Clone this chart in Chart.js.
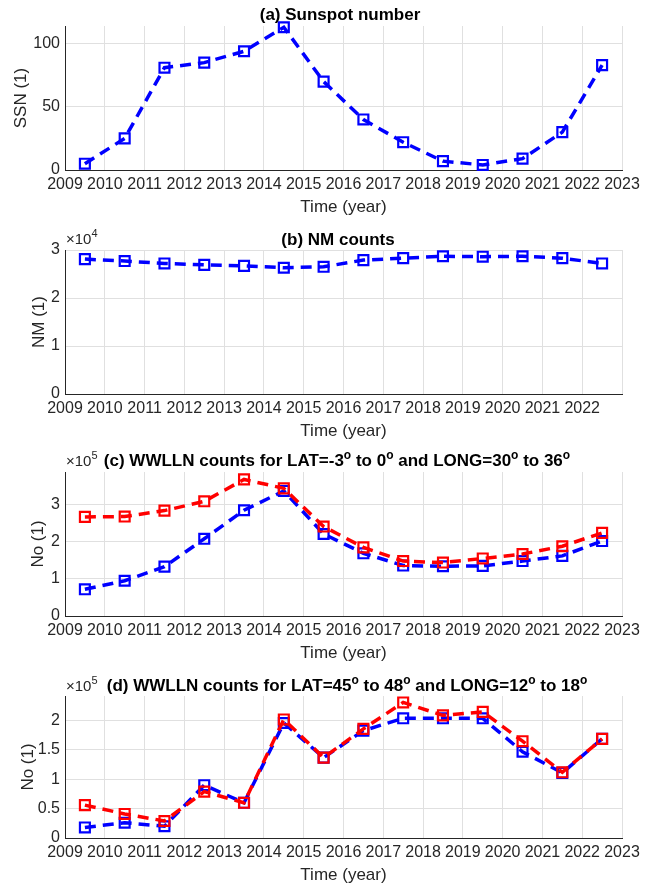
<!DOCTYPE html>
<html>
<head>
<meta charset="utf-8">
<script src="https://cdn.jsdelivr.net/npm/chart.js@4.4.1/dist/chart.umd.min.js"></script>
<style>
  html, body { margin: 0; padding: 0; background: #fff; overflow: hidden; }
  .panel { position: absolute; left: 0; width: 651px; }
</style>
</head>
<body>
<div class="panel" style="top:0px;height:220px"><canvas id="ca" width="651" height="220"></canvas></div>
<div class="panel" style="top:220px;height:220px"><canvas id="cb" width="651" height="220"></canvas></div>
<div class="panel" style="top:440px;height:222px"><canvas id="cc" width="651" height="222"></canvas></div>
<div class="panel" style="top:662px;height:222px"><canvas id="cd" width="651" height="222"></canvas></div>
<script>
// mid-year points, values
const years = [2009.5, 2010.5, 2011.5, 2012.5, 2013.5, 2014.5, 2015.5,
               2016.5, 2017.5, 2018.5, 2019.5, 2020.5, 2021.5, 2022.5];
const ssn = [5, 25, 81, 85, 94, 113, 70, 40, 22, 7, 4, 9, 30, 83];
// NM counts in units of 1e4
const nmCounts = [2.81, 2.77, 2.72, 2.69, 2.67, 2.63, 2.65, 2.79, 2.83, 2.87, 2.86, 2.87, 2.83, 2.72];
// WWLLN counts in units of 1e5
const wwllnCBlue = [0.72, 0.95, 1.33, 2.08, 2.85, 3.37, 2.21, 1.69, 1.36, 1.34, 1.35, 1.48, 1.62, 2.02];
const wwllnCRed = [2.67, 2.68, 2.84, 3.09, 3.68, 3.44, 2.41, 1.85, 1.48, 1.44, 1.55, 1.67, 1.88, 2.24];
const wwllnDBlue = [0.18, 0.26, 0.20, 0.90, 0.60, 1.96, 1.37, 1.83, 2.04, 2.04, 2.04, 1.47, 1.11, 1.69];
const wwllnDRed = [0.56, 0.41, 0.29, 0.79, 0.60, 2.02, 1.37, 1.86, 2.31, 2.09, 2.15, 1.65, 1.12, 1.69];

const yearTicks = [2009, 2010, 2011, 2012, 2013, 2014, 2015, 2016, 2017, 2018, 2019, 2020, 2021, 2022, 2023];
const ssnTicks = [0, 50, 100];
const nmTicks = [0, 1, 2, 3];
const wwllnCTicks = [0, 1, 2, 3];
const wwllnDTicks = [0, 0.5, 1, 1.5, 2];

const FONT = "'Liberation Sans', Arial, Helvetica, sans-serif";
const INK = '#262626';

function pts(vals) {
  return years.map((x, i) => ({ x: x, y: vals[i] }));
}

function line(vals, color, order) {
  return {
    data: pts(vals),
    borderColor: color,
    borderWidth: 3.5,
    borderDash: [11, 7],
    pointStyle: 'rect',
    pointRadius: 7,
    pointBorderWidth: 2.2,
    pointBorderColor: color,
    pointBackgroundColor: 'rgba(0,0,0,0)',
    tension: 0,
    clip: false,
    order: order,
  };
}

// text with ^x superscripts, centered or left aligned at x
function richText(ctx, text, x, y, size, bold, align) {
  const parts = text.split(/\^(\w)/);
  const supSize = Math.round(size * 0.7);
  const weight = bold ? 'bold ' : '';
  let total = 0;
  parts.forEach((p, i) => {
    ctx.font = weight + (i % 2 ? supSize : size) + 'px ' + FONT;
    total += ctx.measureText(p).width;
  });
  let cx = align === 'left' ? x : x - total / 2;
  ctx.textBaseline = 'middle';
  ctx.textAlign = 'left';
  parts.forEach((p, i) => {
    const sup = i % 2 === 1;
    ctx.font = weight + (sup ? supSize : size) + 'px ' + FONT;
    ctx.fillText(p, cx, sup ? y - size * 0.38 : y);
    cx += ctx.measureText(p).width;
  });
}

function makeChart(id, cfg) {
  const xH = cfg.height - cfg.areaBottom;
  new Chart(document.getElementById(id), {
    type: 'line',
    data: { datasets: cfg.datasets },
    options: {
      responsive: false,
      animation: false,
      layout: { padding: { top: cfg.areaTop, right: 29, left: 0, bottom: 0 } },
      plugins: { legend: { display: false }, tooltip: { enabled: false }, title: { display: false } },
      scales: {
        x: {
          type: 'linear',
          min: 2009,
          max: 2023,
          afterBuildTicks: (s) => { s.ticks = yearTicks.map((v) => ({ value: v })); },
          afterFit: (s) => { s.height = xH; },
          grid: { color: '#e0e0e0', lineWidth: 1, drawTicks: false },
          border: { display: true, color: INK, width: 1 },
          ticks: {
            padding: 5,
            maxRotation: 0,
            autoSkip: false,
            color: INK,
            font: { family: FONT, size: 16 },
            callback: (v) => (cfg.skipLast && v === 2023 ? '' : String(v)),
          },
          title: {
            display: true,
            text: 'Time (year)',
            color: INK,
            font: { family: FONT, size: 17 },
            padding: { top: 0, bottom: xH - 37 - 10.2 },
          },
        },
        y: {
          min: 0,
          max: cfg.yMax,
          afterBuildTicks: (s) => { s.ticks = cfg.yTicks.map((v) => ({ value: v })); },
          afterFit: (s) => { s.width = 65; },
          grid: { color: '#e0e0e0', lineWidth: 1, drawTicks: false },
          border: { display: true, color: INK, width: 1 },
          ticks: {
            padding: 5,
            color: INK,
            font: { family: FONT, size: 16 },
            callback: (v) => String(v),
          },
          title: {
            display: true,
            text: cfg.yLabel,
            color: INK,
            font: { family: FONT, size: 17 },
            padding: { top: cfg.yLabelX - 10.2, bottom: 0 },
          },
        },
      },
    },
    plugins: [{
      id: 'panelText',
      afterDraw(chart) {
        const ctx = chart.ctx;
        ctx.save();
        ctx.fillStyle = '#000';
        richText(ctx, cfg.title, cfg.titleX, cfg.titleY, 17, true, 'center');
        if (cfg.exp) {
          ctx.fillStyle = INK;
          richText(ctx, '\u00d710^' + cfg.exp, 66, cfg.titleY, 15, false, 'left');
        }
        ctx.restore();
      },
    }],
  });
}

makeChart('ca', {
  height: 220, areaTop: 26, areaBottom: 170,
  yMax: 114, yTicks: ssnTicks, yLabel: 'SSN (1)', yLabelX: 21,
  title: '(a) Sunspot number', titleX: 340, titleY: 15,
  datasets: [line(ssn, '#0000ff', 1)],
});

makeChart('cb', {
  height: 220, areaTop: 30, areaBottom: 174,
  yMax: 3, yTicks: nmTicks, yLabel: 'NM (1)', yLabelX: 39, skipLast: true,
  title: '(b) NM counts', titleX: 338, titleY: 20, exp: '4',
  datasets: [line(nmCounts, '#0000ff', 1)],
});

makeChart('cc', {
  height: 222, areaTop: 32, areaBottom: 176,
  yMax: 3.88, yTicks: wwllnCTicks, yLabel: 'No (1)', yLabelX: 38,
  title: '(c) WWLLN counts for LAT=-3^o to 0^o and LONG=30^o to 36^o', titleX: 337, titleY: 21.7, exp: '5',
  datasets: [line(wwllnCRed, '#ff0000', 0), line(wwllnCBlue, '#0000ff', 1)],
});

makeChart('cd', {
  height: 222, areaTop: 34, areaBottom: 176,
  yMax: 2.42, yTicks: wwllnDTicks, yLabel: 'No (1)', yLabelX: 28,
  title: '(d) WWLLN counts for LAT=45^o to 48^o and LONG=12^o to 18^o', titleX: 347, titleY: 24.7, exp: '5',
  datasets: [line(wwllnDRed, '#ff0000', 0), line(wwllnDBlue, '#0000ff', 1)],
});
</script>
</body>
</html>
